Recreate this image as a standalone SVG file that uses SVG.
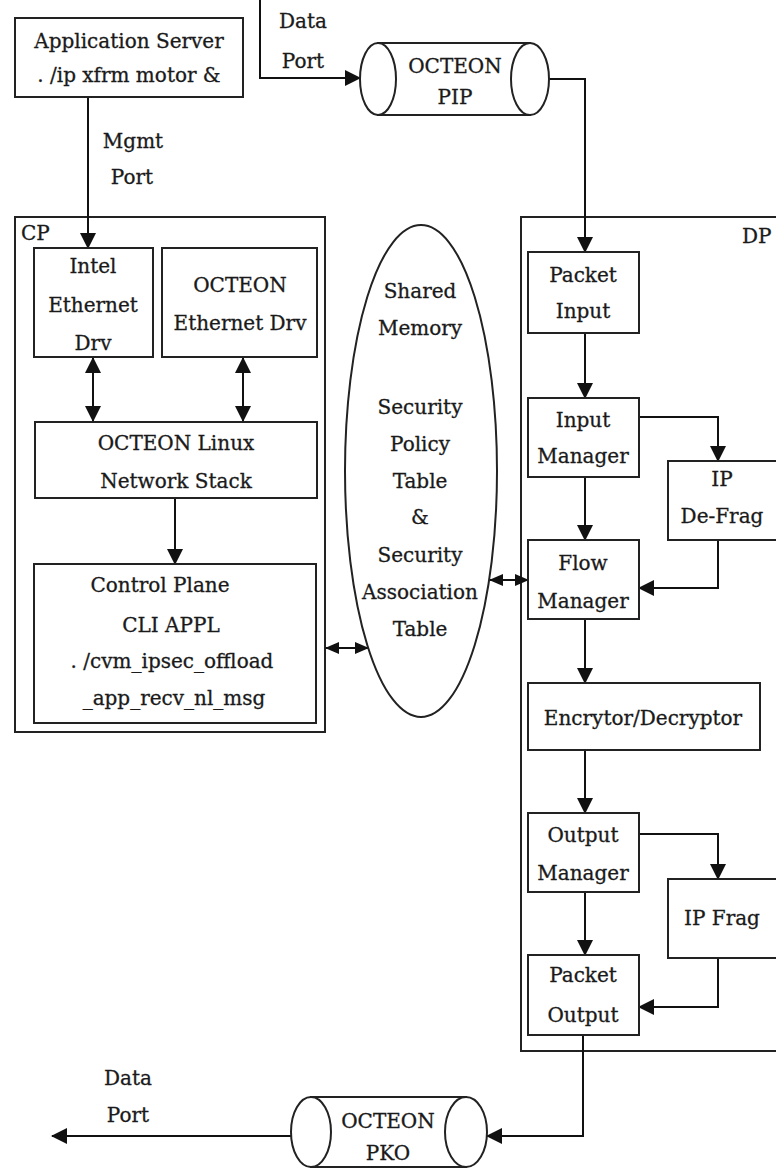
<svg xmlns="http://www.w3.org/2000/svg" width="776" height="1168" viewBox="0 0 776 1168">
<style>
.box{fill:#fff;stroke:#222;stroke-width:2}
.frame{fill:none;stroke:#222;stroke-width:2}
.ln{fill:none;stroke:#111;stroke-width:2}
.t{font-family:"DejaVu Serif","Liberation Serif",serif;font-size:20px;fill:#1a1a1a;stroke:#1a1a1a;stroke-width:0.3;text-anchor:middle}
.ts{font-family:"DejaVu Serif","Liberation Serif",serif;font-size:20px;fill:#1a1a1a;stroke:#1a1a1a;stroke-width:0.3;text-anchor:start}
</style>
<defs>
<marker id="ah" markerWidth="16" markerHeight="16" refX="15" refY="8" orient="auto-start-reverse" markerUnits="userSpaceOnUse"><path d="M0,0 L16,8 L0,16 z" fill="#111"/></marker>
<marker id="as" markerWidth="14" markerHeight="14" refX="13" refY="6" orient="auto-start-reverse" markerUnits="userSpaceOnUse"><path d="M0,0 L14,6 L0,12 z" fill="#111"/></marker>
</defs>
<rect width="776" height="1168" fill="#fff"/>

<g id="cp-frame">
<rect class="frame" x="15" y="217" width="310" height="515"/>
<text class="ts" x="21" y="240">CP</text>
</g>
<g id="dp-frame">
<rect class="frame" x="521" y="217" width="280" height="834"/>
<text class="ts" x="742" y="243">DP</text>
</g>

<g id="connectors">
<polyline class="ln" points="260,0 260,78 360,78" marker-end="url(#ah)"/>
<polyline class="ln" points="549,79 585,79 585,252" marker-end="url(#ah)"/>
<line class="ln" x1="88" y1="97" x2="88" y2="248" marker-end="url(#ah)"/>
<line class="ln" x1="93" y1="358" x2="93" y2="421" marker-start="url(#ah)" marker-end="url(#ah)"/>
<line class="ln" x1="243" y1="358" x2="243" y2="421" marker-start="url(#ah)" marker-end="url(#ah)"/>
<line class="ln" x1="175" y1="498" x2="175" y2="564" marker-end="url(#ah)"/>
<line class="ln" x1="326" y1="648" x2="368" y2="648" marker-start="url(#as)" marker-end="url(#as)"/>
<line class="ln" x1="490" y1="580" x2="528" y2="580" marker-start="url(#as)" marker-end="url(#as)"/>
<line class="ln" x1="585" y1="333" x2="585" y2="398" marker-end="url(#ah)"/>
<polyline class="ln" points="639,417 718,417 718,461" marker-end="url(#ah)"/>
<line class="ln" x1="585" y1="477" x2="585" y2="540" marker-end="url(#ah)"/>
<polyline class="ln" points="718,540 718,588 639,588" marker-end="url(#ah)"/>
<line class="ln" x1="585" y1="619" x2="585" y2="683" marker-end="url(#ah)"/>
<line class="ln" x1="585" y1="750" x2="585" y2="813" marker-end="url(#ah)"/>
<polyline class="ln" points="639,834 718,834 718,879" marker-end="url(#ah)"/>
<line class="ln" x1="585" y1="892" x2="585" y2="955" marker-end="url(#ah)"/>
<polyline class="ln" points="718,958 718,1007 639,1007" marker-end="url(#ah)"/>
<polyline class="ln" points="583,1035 583,1136 487,1136" marker-end="url(#ah)"/>
<line class="ln" x1="291" y1="1136" x2="52" y2="1136" marker-end="url(#ah)"/>
</g>

<g id="labels">
<text class="t" x="303" y="28">Data</text>
<text class="t" x="303" y="68">Port</text>
<text class="t" x="133" y="148">Mgmt</text>
<text class="t" x="132" y="184">Port</text>
<text class="t" x="128" y="1085">Data</text>
<text class="t" x="128" y="1122">Port</text>
</g>

<g id="app-server">
<rect class="box" x="15" y="18" width="228" height="79"/>
<text class="t" x="129" y="48">Application Server</text>
<text class="t" x="129" y="82">. /ip xfrm motor &amp;</text>
</g>

<g id="octeon-pip">
<path class="box" d="M378,43 L530,43 L530,115 L378,115 Z"/>
<ellipse class="box" cx="378" cy="79" rx="18" ry="36"/>
<ellipse class="box" cx="530" cy="79" rx="19" ry="36"/>
<text class="t" x="455" y="73">OCTEON</text>
<text class="t" x="455" y="104">PIP</text>
</g>

<g id="intel-drv">
<rect class="box" x="34" y="248" width="119" height="109"/>
<text class="t" x="93" y="273">Intel</text>
<text class="t" x="93" y="312">Ethernet</text>
<text class="t" x="93" y="350">Drv</text>
</g>

<g id="octeon-drv">
<rect class="box" x="162" y="248" width="155" height="109"/>
<text class="t" x="240" y="292">OCTEON</text>
<text class="t" x="240" y="330">Ethernet Drv</text>
</g>

<g id="linux-stack">
<rect class="box" x="35" y="422" width="282" height="76"/>
<text class="t" x="176" y="450">OCTEON Linux</text>
<text class="t" x="176" y="488">Network Stack</text>
</g>

<g id="control-plane">
<rect class="box" x="34" y="564" width="282" height="159"/>
<text class="t" x="160" y="592">Control Plane</text>
<text class="t" x="171" y="632">CLI APPL</text>
<text class="t" x="172" y="668">. /cvm_ipsec_offload</text>
<text class="t" x="174" y="705">_app_recv_nl_msg</text>
</g>

<g id="shared-memory">
<ellipse class="box" cx="421" cy="471" rx="76" ry="246"/>
<text class="t" x="420" y="298">Shared</text>
<text class="t" x="420" y="335">Memory</text>
<text class="t" x="420" y="414">Security</text>
<text class="t" x="420" y="451">Policy</text>
<text class="t" x="420" y="488">Table</text>
<text class="t" x="420" y="524">&amp;</text>
<text class="t" x="420" y="562">Security</text>
<text class="t" x="420" y="599">Association</text>
<text class="t" x="420" y="636">Table</text>
</g>

<g id="packet-input">
<rect class="box" x="528" y="252" width="111" height="81"/>
<text class="t" x="583" y="282">Packet</text>
<text class="t" x="583" y="318">Input</text>
</g>

<g id="input-manager">
<rect class="box" x="528" y="398" width="111" height="79"/>
<text class="t" x="583" y="427">Input</text>
<text class="t" x="583" y="463">Manager</text>
</g>

<g id="ip-defrag">
<rect class="box" x="668" y="461" width="120" height="79"/>
<text class="t" x="722" y="486">IP</text>
<text class="t" x="722" y="523">De-Frag</text>
</g>

<g id="flow-manager">
<rect class="box" x="528" y="540" width="111" height="79"/>
<text class="t" x="583" y="570">Flow</text>
<text class="t" x="583" y="608">Manager</text>
</g>

<g id="encryptor">
<rect class="box" x="528" y="683" width="232" height="67"/>
<text class="t" x="643" y="725">Encrytor/Decryptor</text>
</g>

<g id="output-manager">
<rect class="box" x="528" y="813" width="111" height="79"/>
<text class="t" x="583" y="842">Output</text>
<text class="t" x="583" y="880">Manager</text>
</g>

<g id="ip-frag">
<rect class="box" x="668" y="879" width="120" height="79"/>
<text class="t" x="722" y="925">IP Frag</text>
</g>

<g id="packet-output">
<rect class="box" x="528" y="955" width="111" height="80"/>
<text class="t" x="583" y="982">Packet</text>
<text class="t" x="583" y="1022">Output</text>
</g>

<g id="octeon-pko">
<path class="box" d="M311,1097 L466,1097 L466,1167 L311,1167 Z"/>
<ellipse class="box" cx="311" cy="1132" rx="20" ry="35"/>
<ellipse class="box" cx="466" cy="1132" rx="21" ry="35"/>
<text class="t" x="388" y="1128">OCTEON</text>
<text class="t" x="388" y="1160">PKO</text>
</g>
</svg>
